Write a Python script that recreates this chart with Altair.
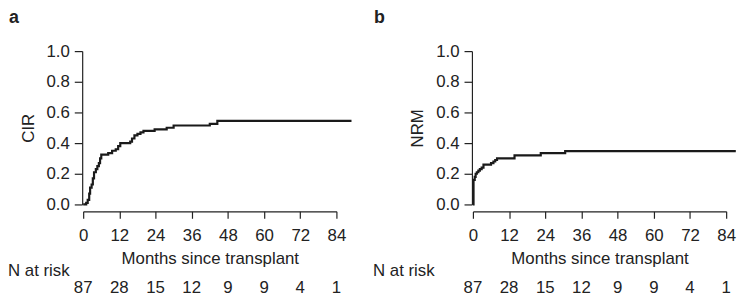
import altair as alt
import pandas as pd

# Cumulative incidence of relapse (panel a), step function
cir_t = [0, 1.0, 1.5, 2.0, 2.3, 2.8, 3.2, 3.6, 4.2, 4.7, 5.2, 5.6, 6.0, 8.3, 9.6, 10.8,
         11.6, 12.3, 15.6, 16.2, 17.0, 18.0, 19.0, 20.0, 23.7, 27.7, 30.0, 42.0, 44.5, 89]
cir_v = [0, 0.01, 0.03, 0.07, 0.11, 0.13, 0.17, 0.21, 0.23, 0.25, 0.27, 0.30, 0.325, 0.335,
         0.35, 0.36, 0.38, 0.40, 0.41, 0.43, 0.45, 0.46, 0.47, 0.48, 0.49, 0.50, 0.515, 0.525,
         0.545, 0.545]

# Non-relapse mortality (panel b), step function
nrm_t = [0, 0.2, 0.6, 0.9, 1.3, 1.8, 2.3, 2.9, 3.5, 6.0, 6.8, 7.4, 8.0, 13.8, 22.5, 30.6, 87.2]
nrm_v = [0, 0.16, 0.18, 0.20, 0.21, 0.22, 0.23, 0.24, 0.26, 0.27, 0.28, 0.29, 0.30, 0.32,
         0.335, 0.348, 0.348]

x_ticks = [0, 12, 24, 36, 48, 60, 72, 84]
y_ticks = [0.0, 0.2, 0.4, 0.6, 0.8, 1.0]
n_at_risk = [87, 28, 15, 12, 9, 9, 4, 1]

INK = "#222222"
FONT = "Liberation Sans"
FS = 17


def panel(t, v, ytitle, letter, left_x):
    df = pd.DataFrame({"t": t, "v": v})
    x = alt.X("t:Q",
              scale=alt.Scale(domain=[0, 84], nice=False, zero=False),
              axis=alt.Axis(values=x_ticks, title="Months since transplant",
                            offset=7, tickSize=7, labelPadding=9, titlePadding=8,
                            labelFlush=False, labelOverlap=False))
    y = alt.Y("v:Q",
              scale=alt.Scale(domain=[0, 1], nice=False),
              axis=alt.Axis(values=y_ticks, format=".1f", title=ytitle,
                            offset=1, tickSize=8, labelPadding=5, titlePadding=9,
                            labelFlush=False, labelOverlap=False))
    line = alt.Chart(df).mark_line(interpolate="step-after", color="#1a1a1a",
                                   strokeWidth=2.2, clip=False).encode(x=x, y=y)

    risk_df = pd.DataFrame({"t": x_ticks, "n": n_at_risk})
    risk = alt.Chart(risk_df).mark_text(fontSize=FS, font=FONT, color=INK,
                                        baseline="middle").encode(
        x=x, y=alt.value(240), text="n:Q")

    nlab = alt.Chart(pd.DataFrame({"s": ["N at risk"]})).mark_text(
        fontSize=FS, font=FONT, color=INK, align="left", baseline="middle").encode(
        x=alt.value(left_x), y=alt.value(222), text="s:N")

    let = alt.Chart(pd.DataFrame({"s": [letter]})).mark_text(
        fontSize=18, font=FONT, fontWeight="bold", color=INK, align="left",
        baseline="top").encode(
        x=alt.value(left_x + 1), y=alt.value(-42), text="s:N")

    return alt.layer(line, risk, nlab, let).properties(width=256, height=155)


left = panel(cir_t, cir_v, "CIR", "a", -76)
right = panel(nrm_t, nrm_v, "NRM", "b", -101)

chart = alt.hconcat(left, right, spacing=17).properties(
    padding=0
).configure_view(
    strokeWidth=0
).configure_axis(
    grid=False,
    labelFont=FONT, titleFont=FONT,
    labelFontSize=FS, titleFontSize=FS, titleFontWeight="normal",
    labelColor=INK, titleColor=INK,
    domainColor=INK, tickColor=INK, domainWidth=1.2, tickWidth=1.2,
)

chart.save("out.html", embed_options={"renderer": "svg", "actions": False})
